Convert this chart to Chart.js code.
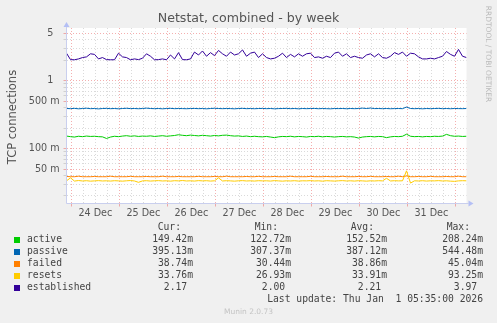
<!DOCTYPE html>
<html>
<head>
<meta charset="utf-8">
<script src="https://cdn.jsdelivr.net/npm/chart.js@4.4.1/dist/chart.umd.min.js"></script>
<style>
  html, body { margin: 0; padding: 0; background: #f0f0f0; }
  #wrap { position: relative; width: 497px; height: 323px; overflow: hidden; font-family: 'DejaVu Sans', sans-serif; }
  #chart { position: absolute; left: 0; top: 0; }
  .t { position: absolute; white-space: pre; line-height: 12px; }
  .mono { font-family: 'DejaVu Sans Mono', monospace; font-size: 9.7px; color: #444; }
  .sw { position: absolute; width: 6px; height: 6px; }
</style>
</head>
<body>
<div id="wrap">
  <canvas id="chart" width="497" height="323"></canvas>
  <div class="t" style="left:0;width:497px;text-align:center;top:12px;font-size:12.6px;color:#555;">Netstat, combined - by week</div>
  <div class="t" style="left:-48px;top:111px;width:120px;text-align:center;font-size:11.5px;color:#555;transform:rotate(-90deg);">TCP connections</div>
  <div class="t" style="left:438px;top:48px;width:100px;text-align:center;font-size:7.5px;color:#bbb;transform:rotate(90deg);">RRDTOOL / TOBI OETIKER</div>
  <div id="legend"></div>
  <div class="t mono" style="right:14px;top:293px;">Last update: Thu Jan  1 05:35:00 2026</div>
  <div class="t" style="left:0;width:497px;text-align:center;top:306px;font-size:7.5px;color:#c4c4c4;">Munin 2.0.73</div>
</div>
<script>
// series, sampled every 2 hours (hours counted from 24 Dec 00:00)
var startHour = -2.42;
var stepHours = 2;

var seriesNames = ["active", "passive", "failed", "resets", "established"];
var seriesColors = ["#00cc00", "#0066b3", "#ff8000", "#ffcc00", "#330099"];

var active = [0.153,0.150,0.148,0.152,0.150,0.153,0.151,0.152,0.150,0.149,
  0.141,0.148,0.152,0.150,0.153,0.155,0.152,0.154,0.151,0.153,
  0.152,0.154,0.151,0.153,0.155,0.152,0.154,0.156,0.160,0.157,
  0.155,0.158,0.156,0.154,0.157,0.155,0.153,0.156,0.154,0.157,
  0.158,0.155,0.153,0.154,0.151,0.153,0.150,0.152,0.150,0.149,
  0.151,0.148,0.145,0.149,0.151,0.150,0.152,0.149,0.151,0.150,
  0.148,0.151,0.150,0.152,0.149,0.151,0.150,0.148,0.150,0.151,
  0.149,0.150,0.148,0.143,0.148,0.150,0.151,0.149,0.151,0.150,
  0.145,0.149,0.151,0.150,0.152,0.163,0.152,0.150,0.151,0.149,
  0.151,0.150,0.152,0.151,0.153,0.162,0.155,0.152,0.153,0.151,
  0.152];

var passive = [0.390,0.388,0.392,0.386,0.390,0.394,0.388,0.390,0.385,0.390,
  0.392,0.388,0.390,0.386,0.390,0.393,0.389,0.390,0.387,0.390,
  0.395,0.390,0.388,0.390,0.386,0.390,0.392,0.388,0.390,0.389,
  0.387,0.390,0.391,0.388,0.390,0.386,0.390,0.393,0.390,0.388,
  0.390,0.389,0.386,0.390,0.392,0.388,0.390,0.387,0.390,0.391,
  0.388,0.390,0.386,0.389,0.390,0.392,0.388,0.390,0.386,0.390,
  0.388,0.390,0.391,0.387,0.390,0.388,0.386,0.390,0.389,0.390,
  0.387,0.390,0.388,0.390,0.395,0.390,0.396,0.389,0.390,0.388,
  0.390,0.387,0.389,0.390,0.388,0.410,0.390,0.388,0.390,0.386,
  0.390,0.388,0.390,0.392,0.388,0.390,0.387,0.390,0.389,0.388,
  0.390];

var failed = [0.0388,0.0385,0.0385,0.0392,0.0385,0.0385,0.0385,0.0388,0.0385,0.0385,
  0.0385,0.0392,0.0385,0.0385,0.0385,0.0385,0.0390,0.0385,0.0385,0.0385,
  0.0388,0.0385,0.0385,0.0385,0.0392,0.0385,0.0385,0.0385,0.0388,0.0385,
  0.0385,0.0385,0.0385,0.0390,0.0385,0.0385,0.0385,0.0388,0.0385,0.0385,
  0.0392,0.0385,0.0385,0.0385,0.0385,0.0388,0.0385,0.0385,0.0390,0.0385,
  0.0385,0.0385,0.0388,0.0385,0.0385,0.0385,0.0392,0.0385,0.0385,0.0385,
  0.0385,0.0390,0.0385,0.0385,0.0385,0.0388,0.0385,0.0385,0.0385,0.0392,
  0.0385,0.0385,0.0385,0.0388,0.0385,0.0385,0.0390,0.0385,0.0385,0.0385,
  0.0388,0.0385,0.0385,0.0392,0.0385,0.0395,0.0385,0.0385,0.0388,0.0385,
  0.0385,0.0390,0.0385,0.0385,0.0385,0.0388,0.0385,0.0385,0.0392,0.0385,
  0.0385];

var resets = [0.0335,0.0370,0.0332,0.0338,0.0333,0.0336,0.0331,0.0334,0.0337,0.0333,
  0.0335,0.0332,0.0336,0.0334,0.0331,0.0335,0.0338,0.0333,0.0318,0.0334,
  0.0336,0.0332,0.0335,0.0337,0.0333,0.0335,0.0331,0.0336,0.0334,0.0338,
  0.0333,0.0335,0.0332,0.0337,0.0334,0.0336,0.0332,0.0335,0.0370,0.0333,
  0.0336,0.0334,0.0331,0.0335,0.0337,0.0333,0.0335,0.0332,0.0336,0.0334,
  0.0335,0.0332,0.0337,0.0334,0.0331,0.0335,0.0333,0.0336,0.0332,0.0335,
  0.0334,0.0337,0.0333,0.0335,0.0331,0.0336,0.0334,0.0332,0.0335,0.0337,
  0.0333,0.0335,0.0332,0.0336,0.0334,0.0331,0.0335,0.0333,0.0336,0.0334,
  0.0365,0.0333,0.0336,0.0334,0.0335,0.0470,0.0310,0.0335,0.0333,0.0336,
  0.0332,0.0335,0.0334,0.0337,0.0333,0.0335,0.0331,0.0329,0.0334,0.0336,
  0.0335];

var established = [2.55,2.05,2.04,2.10,2.20,2.25,2.50,2.45,2.10,2.20,
  2.05,2.04,2.04,2.55,2.25,2.20,2.04,2.10,2.05,2.15,
  2.50,2.30,2.04,2.05,2.10,2.04,2.40,2.10,2.60,2.05,
  2.04,2.10,2.65,2.40,2.75,2.30,2.60,2.35,2.80,2.50,
  2.30,2.65,2.40,2.50,2.85,2.30,2.55,2.65,2.20,2.50,
  2.20,2.10,2.15,2.30,2.55,2.20,2.45,2.25,2.50,2.30,
  2.50,2.55,2.20,2.25,2.15,2.30,2.20,2.55,2.65,2.30,
  2.50,2.20,2.30,2.20,2.15,2.40,2.50,2.25,2.50,2.20,
  2.15,2.30,2.60,2.45,2.65,2.30,2.55,2.50,2.25,2.10,
  2.10,2.15,2.10,2.20,2.30,2.70,2.45,2.30,2.90,2.30,
  2.20];

// legend table (Cur, Min, Avg, Max)
var statCur = ["149.42m", "395.13m", " 38.74m", " 33.76m", "   2.17 "];
var statMin = ["122.72m", "307.37m", " 30.44m", " 26.93m", "   2.00 "];
var statAvg = ["152.52m", "387.12m", " 38.86m", " 33.91m", "   2.21 "];
var statMax = ["208.24m", "544.48m", " 45.04m", " 93.25m", "   3.97 "];

// axes
var xMin = -2.42, xMax = 197.58;
var xGridHours = [0,6,12,18,24,30,36,42,48,54,60,66,72,78,84,90,96,102,108,114,120,126,132,138,144,150,156,162,168,174,180,186,192];
var dayLabels = { 12: "24 Dec", 36: "25 Dec", 60: "26 Dec", 84: "27 Dec", 108: "28 Dec", 132: "29 Dec", 156: "30 Dec", 180: "31 Dec" };
var yMin = 0.0155, yMax = 6;
var yGrid = [0.02,0.03,0.04,0.05,0.06,0.07,0.08,0.09,0.1,0.2,0.3,0.4,0.5,0.6,0.7,0.8,0.9,1,2,3,4,5];
var yLabels = { 0.05: "50 m", 0.1: "100 m", 0.5: "500 m", 1: "1  ", 5: "5  " };

var majorColor = "rgba(235,110,110,0.55)";
var minorColor = "rgba(150,150,150,0.35)";
var axisColor = "#c9cfee";

function toPoints(arr) {
    return arr.map(function (v, i) { return { x: startHour + i * stepHours, y: v }; });
}

// legend
(function () {
    var html = "";
    var heads = [["Cur:", 316], ["Min:", 219], ["Avg:", 123], ["Max:", 27]];
    heads.forEach(function (h) {
        html += '<div class="t mono" style="right:' + h[1] + 'px;top:221px;">' + h[0] + '</div>';
    });
    seriesNames.forEach(function (name, i) {
        var top = 233 + i * 12;
        html += '<div class="sw" style="left:14px;top:' + (top + 4) + 'px;background:' + seriesColors[i] + ';"></div>';
        html += '<div class="t mono" style="left:27px;top:' + top + 'px;">' + name + '</div>';
        html += '<div class="t mono" style="right:304px;top:' + top + 'px;">' + statCur[i] + '</div>';
        html += '<div class="t mono" style="right:206px;top:' + top + 'px;">' + statMin[i] + '</div>';
        html += '<div class="t mono" style="right:110px;top:' + top + 'px;">' + statAvg[i] + '</div>';
        html += '<div class="t mono" style="right:14px;top:' + top + 'px;">' + statMax[i] + '</div>';
    });
    document.getElementById("legend").innerHTML = html;
})();

var plotBackground = {
    id: "plotBackground",
    beforeDraw: function (chart) {
        var a = chart.chartArea, c = chart.ctx;
        c.save();
        c.fillStyle = "#ffffff";
        c.fillRect(a.left, a.top, a.right - a.left, a.bottom - a.top);
        c.restore();
    },
    afterDraw: function (chart) {
        var a = chart.chartArea, c = chart.ctx;
        c.save();
        c.strokeStyle = axisColor;
        c.lineWidth = 1;
        c.beginPath();
        c.moveTo(Math.floor(a.left) + 0.5, a.top - 2);
        c.lineTo(Math.floor(a.left) + 0.5, Math.floor(a.bottom) + 0.5);
        c.lineTo(a.right + 2, Math.floor(a.bottom) + 0.5);
        c.stroke();
        // arrows
        c.fillStyle = "#b4bff5";
        var lx = Math.floor(a.left) + 0.5, by = Math.floor(a.bottom) + 0.5;
        c.beginPath();
        c.moveTo(lx, a.top - 6);
        c.lineTo(lx - 3, a.top - 1);
        c.lineTo(lx + 3, a.top - 1);
        c.closePath();
        c.fill();
        c.beginPath();
        c.moveTo(a.right + 7, by);
        c.lineTo(a.right + 2, by - 3);
        c.lineTo(a.right + 2, by + 3);
        c.closePath();
        c.fill();
        c.restore();
    }
};

Chart.defaults.font.family = "'DejaVu Sans', sans-serif";

var datasets = [active, passive, failed, resets, established].map(function (arr, i) {
    return {
        label: seriesNames[i],
        data: toPoints(arr),
        borderColor: seriesColors[i],
        borderWidth: 1,
        pointRadius: 0,
        fill: false,
        tension: 0,
        order: 4 - i
    };
});

new Chart(document.getElementById("chart"), {
    type: "line",
    data: { datasets: datasets },
    plugins: [plotBackground],
    options: {
        responsive: false,
        animation: false,
        layout: { padding: { left: 0, right: 30.5, top: 28, bottom: 100 } },
        plugins: { legend: { display: false }, tooltip: { enabled: false } },
        scales: {
            x: {
                type: "linear",
                min: xMin,
                max: xMax,
                afterFit: function (s) { s.height = 19.5; },
                afterBuildTicks: function (s) {
                    s.ticks = xGridHours.map(function (h) { return { value: h }; });
                },
                ticks: {
                    autoSkip: false,
                    maxRotation: 0,
                    padding: 1,
                    color: "#555",
                    font: { size: 9.6 },
                    callback: function (v) { return dayLabels[v] || ""; }
                },
                grid: {
                    color: function (ctx) { return ctx.tick && ctx.tick.value % 24 === 0 ? majorColor : minorColor; },
                    tickColor: function (ctx) { return ctx.tick && ctx.tick.value % 24 === 0 ? majorColor : "rgba(0,0,0,0)"; },
                    tickLength: 3,
                    lineWidth: 1
                },
                border: { display: false, dash: [1, 2] }
            },
            y: {
                type: "logarithmic",
                min: yMin,
                max: yMax,
                afterFit: function (s) { s.width = 66.5; },
                afterBuildTicks: function (s) {
                    s.ticks = yGrid.map(function (v) { return { value: v }; });
                },
                ticks: {
                    autoSkip: false,
                    padding: 4,
                    color: "#555",
                    font: { size: 9.6 },
                    callback: function (v) { return yLabels[v] || ""; }
                },
                grid: {
                    color: function (ctx) { return ctx.tick && yLabels[ctx.tick.value] ? majorColor : minorColor; },
                    tickColor: function (ctx) { return ctx.tick && yLabels[ctx.tick.value] ? majorColor : minorColor; },
                    tickLength: 3,
                    lineWidth: 1
                },
                border: { display: false, dash: [1, 2] }
            }
        }
    }
});
</script>
</body>
</html>
